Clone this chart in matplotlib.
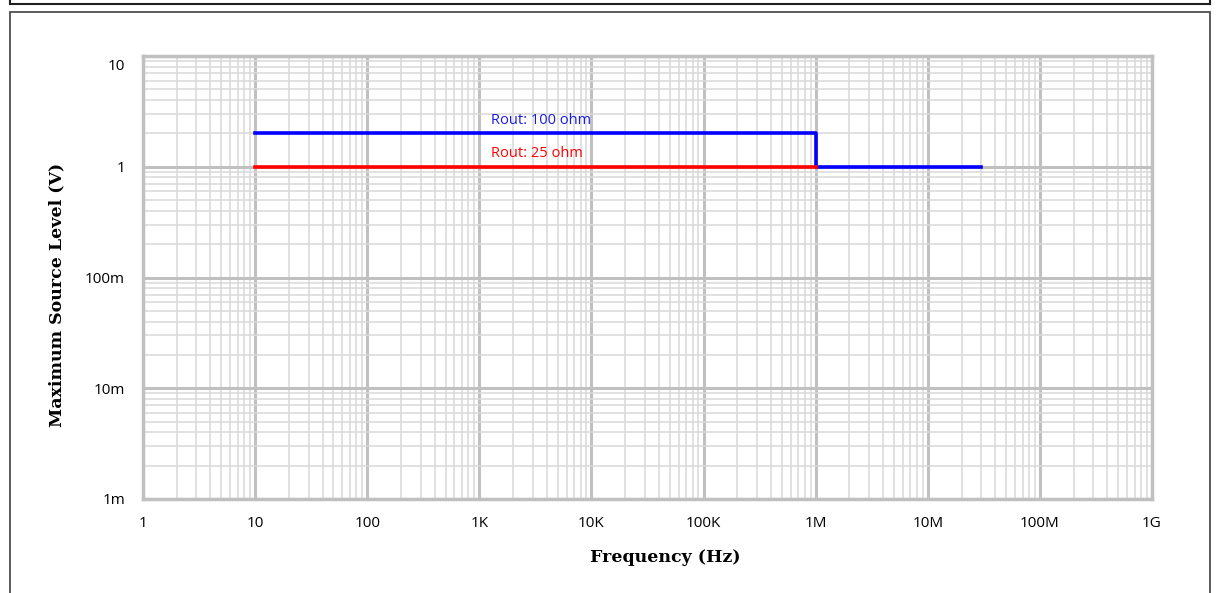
import matplotlib.pyplot as plt
import numpy as np
from matplotlib.patches import Rectangle
from matplotlib.lines import Line2D
from matplotlib.transforms import ScaledTranslation

# data
freq_100 = [10, 1e6, 1e6, 3e7]
level_100 = [2, 2, 1, 1]
freq_25 = [10, 1e6]
level_25 = [1, 1]

x_ticks = [1, 10, 100, 1e3, 1e4, 1e5, 1e6, 1e7, 1e8, 1e9]
x_labels = ['1', '10', '100', '1K', '10K', '100K', '1M', '10M', '100M', '1G']
y_ticks = [1e-3, 1e-2, 1e-1, 1, 10]
y_labels = ['1m', '10m', '100m', '1', '10']

fig = plt.figure(figsize=(12.18, 5.93), dpi=100)
ax = fig.add_axes([143 / 1218, 1 - 499 / 593, (1152 - 143) / 1218, (499 - 56) / 593])

ax.set_xscale('log')
ax.set_yscale('log')
ax.set_xlim(1, 1e9)
ax.set_ylim(1e-3, 10)

ax.grid(True, which='major', color='#c0c0c0', lw=2.2, zorder=0)
ax.grid(True, which='minor', color='#d9d9d9', lw=1.1, zorder=0)
ax.set_axisbelow(True)

ax.plot(freq_100, level_100, color='#0000ff', lw=2.6, zorder=3)
ax.plot(freq_25, level_25, color='#ff0000', lw=2.6, zorder=3)

ax.text(3550, 2.6, 'Rout: 100 ohm', color='#1a1adf', fontsize=10.5,
        family='Open Sans', ha='center', va='center')
ax.text(3270, 1.31, 'Rout: 25 ohm', color='#ff0000', fontsize=10.5,
        family='Open Sans', ha='center', va='center')

ax.set_xticks(x_ticks)
ax.set_xticklabels(x_labels, family='Open Sans', fontsize=11)
ax.set_yticks(y_ticks)
ax.set_yticklabels(y_labels, family='Open Sans', fontsize=11)
ax.tick_params(which='both', length=0)
ax.tick_params(axis='x', pad=12)
ax.tick_params(axis='y', pad=13)
# the top label sits a little below its gridline in the original
top = ax.get_yticklabels()[-1]
top.set_transform(top.get_transform() + ScaledTranslation(0, -9 / 100, fig.dpi_scale_trans))

for s in ax.spines.values():
    s.set_color('#c0c0c0')
    s.set_linewidth(2.5)

ax.set_xlabel('Frequency (Hz)', family='DejaVu Serif', fontweight='bold', fontsize=12.5)
ax.set_ylabel('Maximum Source Level (V)', family='DejaVu Serif', fontweight='bold', fontsize=12.5)
ax.xaxis.set_label_coords(0.518, -0.113)
ax.yaxis.set_label_coords(-0.077, 0.46)

# page frames around the chart
W, H = 1218, 593
fig.add_artist(Rectangle((10 / W, -0.05), 1200 / W, 1.05 - 12 / H,
                         transform=fig.transFigure, fill=False,
                         edgecolor='#404040', lw=1.2))
fig.add_artist(Line2D([10 / W, 1210 / W], [1 - 4 / H, 1 - 4 / H],
                      transform=fig.transFigure, color='#202020', lw=1.5))
fig.add_artist(Line2D([10 / W, 10 / W], [1 - 4 / H, 1.01],
                      transform=fig.transFigure, color='#202020', lw=1.5))
fig.add_artist(Line2D([1210 / W, 1210 / W], [1 - 4 / H, 1.01],
                      transform=fig.transFigure, color='#202020', lw=1.5))

fig.savefig('out.png', dpi=100)
